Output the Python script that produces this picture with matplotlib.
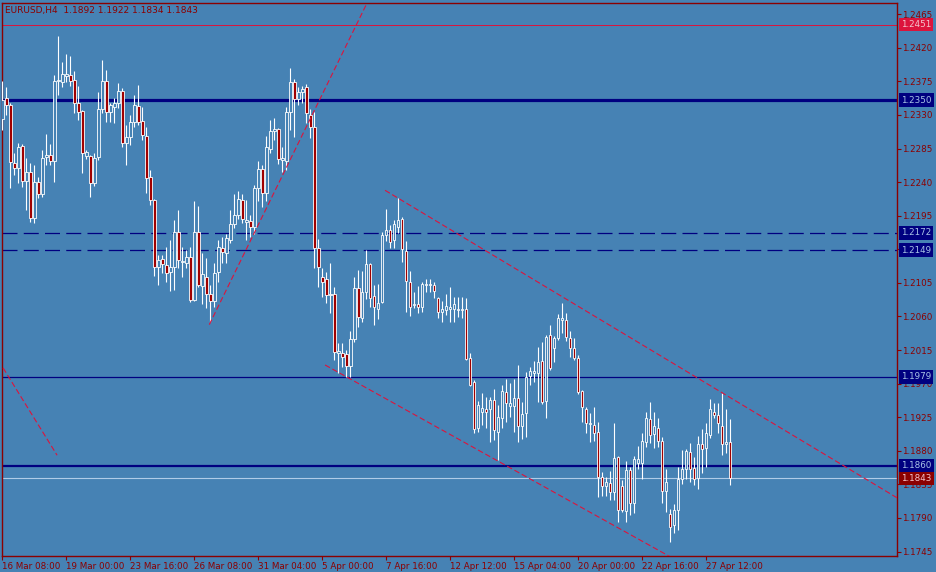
import matplotlib
matplotlib.use("Agg")
import matplotlib.pyplot as plt
import numpy as np

# EURUSD H4 bars (open, high, low, close)
opens = [1.2325, 1.2353, 1.2343, 1.2266, 1.2259, 1.2288, 1.2241, 1.2253, 1.2192, 1.2240,
         1.2224, 1.2274, 1.2276, 1.2268, 1.2375, 1.2374, 1.2382, 1.2384, 1.2377, 1.2346,
         1.2335, 1.2275, 1.2275, 1.2239, 1.2274, 1.2338, 1.2375, 1.2334, 1.2341, 1.2346,
         1.2362, 1.2292, 1.2300, 1.2321, 1.2342, 1.2322, 1.2302, 1.2247, 1.2216, 1.2126,
         1.2137, 1.2129, 1.2120, 1.2126, 1.2173, 1.2133, 1.2132, 1.2140, 1.2082, 1.2173,
         1.2101, 1.2113, 1.2090, 1.2081, 1.2120, 1.2152, 1.2145, 1.2162, 1.2184, 1.2196,
         1.2216, 1.2187, 1.2188, 1.2180, 1.2232, 1.2258, 1.2225, 1.2284, 1.2309, 1.2311,
         1.2270, 1.2268, 1.2334, 1.2374, 1.2351, 1.2361, 1.2367, 1.2330, 1.2314, 1.2152,
         1.2113, 1.2110, 1.2089, 1.2090, 1.2011, 1.2011, 1.2010, 1.1994, 1.2030, 1.2098,
         1.2058, 1.2093, 1.2130, 1.2087, 1.2070, 1.2079, 1.2169, 1.2176, 1.2162, 1.2180,
         1.2191, 1.2148, 1.2106, 1.2075, 1.2077, 1.2073, 1.2102, 1.2102, 1.2102, 1.2085,
         1.2066, 1.2069, 1.2070, 1.2070, 1.2069, 1.2069, 1.2070, 1.2004, 1.1972, 1.1911,
         1.1932, 1.1936, 1.1936, 1.1948, 1.1905, 1.1924, 1.1959, 1.1940, 1.1940, 1.1951,
         1.1913, 1.1931, 1.1980, 1.1984, 1.1984, 1.2000, 1.1947, 1.2035, 1.2018, 1.2031,
         1.2055, 1.2055, 1.2031, 1.2018, 1.2004, 1.1960, 1.1936, 1.1916, 1.1915, 1.1905,
         1.1845, 1.1833, 1.1837, 1.1825, 1.1872, 1.1833, 1.1799, 1.1854, 1.1810, 1.1864,
         1.1864, 1.1892, 1.1923, 1.1902, 1.1911, 1.1893, 1.1826, 1.1795, 1.1781, 1.1801,
         1.1842, 1.1856, 1.1878, 1.1857, 1.1843, 1.1889, 1.1884, 1.1901, 1.1932, 1.1928,
         1.1913, 1.1889, 1.1892]
highs = [1.2375, 1.2367, 1.2346, 1.2279, 1.2292, 1.2291, 1.2272, 1.2266, 1.2263, 1.2247,
         1.2283, 1.2304, 1.2291, 1.2384, 1.2436, 1.2401, 1.2412, 1.2409, 1.2389, 1.2369,
         1.2336, 1.2283, 1.2276, 1.2279, 1.2361, 1.2404, 1.2390, 1.2346, 1.2353, 1.2373,
         1.2366, 1.2317, 1.2330, 1.2357, 1.2370, 1.2341, 1.2314, 1.2256, 1.2217, 1.2142,
         1.2142, 1.2153, 1.2162, 1.2189, 1.2203, 1.2153, 1.2149, 1.2153, 1.2215, 1.2208,
         1.2145, 1.2138, 1.2102, 1.2132, 1.2162, 1.2166, 1.2170, 1.2203, 1.2224, 1.2228,
         1.2224, 1.2216, 1.2196, 1.2236, 1.2268, 1.2263, 1.2302, 1.2323, 1.2326, 1.2312,
         1.2287, 1.2341, 1.2393, 1.2378, 1.2367, 1.2369, 1.2371, 1.2338, 1.2334, 1.2164,
         1.2125, 1.2120, 1.2132, 1.2099, 1.2024, 1.2024, 1.2015, 1.2041, 1.2113, 1.2122,
         1.2121, 1.2149, 1.2132, 1.2102, 1.2103, 1.2173, 1.2204, 1.2183, 1.2189, 1.2219,
         1.2193, 1.2161, 1.2121, 1.2093, 1.2101, 1.2106, 1.2110, 1.2110, 1.2106, 1.2086,
         1.2081, 1.2090, 1.2099, 1.2086, 1.2086, 1.2086, 1.2085, 1.2011, 1.1975, 1.1947,
         1.1957, 1.1952, 1.1952, 1.1963, 1.1941, 1.1968, 1.1976, 1.1971, 1.1976, 1.1995,
         1.1945, 1.1986, 1.1992, 1.2000, 1.2019, 1.2026, 1.2035, 1.2049, 1.2034, 1.2063,
         1.2078, 1.2065, 1.2040, 1.2031, 1.2008, 1.1961, 1.1939, 1.1931, 1.1939, 1.1919,
         1.1852, 1.1845, 1.1853, 1.1917, 1.1873, 1.1841, 1.1866, 1.1858, 1.1873, 1.1886,
         1.1904, 1.1932, 1.1945, 1.1932, 1.1924, 1.1898, 1.1856, 1.1802, 1.1809, 1.1858,
         1.1881, 1.1882, 1.1890, 1.1872, 1.1900, 1.1909, 1.1917, 1.1949, 1.1944, 1.1944,
         1.1957, 1.1936, 1.1922]
lows = [1.2310, 1.2330, 1.2232, 1.2250, 1.2239, 1.2233, 1.2203, 1.2187, 1.2185, 1.2219,
        1.2220, 1.2263, 1.2263, 1.2240, 1.2357, 1.2367, 1.2374, 1.2369, 1.2333, 1.2323,
        1.2252, 1.2271, 1.2220, 1.2235, 1.2270, 1.2333, 1.2321, 1.2321, 1.2319, 1.2339,
        1.2287, 1.2263, 1.2290, 1.2314, 1.2317, 1.2296, 1.2225, 1.2209, 1.2114, 1.2102,
        1.2118, 1.2106, 1.2094, 1.2095, 1.2125, 1.2113, 1.2125, 1.2079, 1.2081, 1.2099,
        1.2077, 1.2071, 1.2053, 1.2073, 1.2106, 1.2132, 1.2132, 1.2158, 1.2179, 1.2191,
        1.2185, 1.2162, 1.2166, 1.2170, 1.2215, 1.2207, 1.2215, 1.2279, 1.2296, 1.2264,
        1.2253, 1.2256, 1.2310, 1.2300, 1.2343, 1.2346, 1.2319, 1.2299, 1.2125, 1.2099,
        1.2086, 1.2078, 1.2065, 1.2002, 1.1984, 1.1992, 1.1979, 1.1979, 1.2026, 1.2046,
        1.2053, 1.2083, 1.2073, 1.2049, 1.2057, 1.2078, 1.2161, 1.2152, 1.2152, 1.2172,
        1.2133, 1.2066, 1.2061, 1.2071, 1.2065, 1.2066, 1.2093, 1.2093, 1.2085, 1.2058,
        1.2053, 1.2062, 1.2053, 1.2053, 1.2059, 1.2058, 1.2002, 1.1967, 1.1904, 1.1905,
        1.1915, 1.1911, 1.1892, 1.1894, 1.1868, 1.1911, 1.1919, 1.1925, 1.1905, 1.1892,
        1.1896, 1.1898, 1.1968, 1.1972, 1.1945, 1.1943, 1.1924, 1.1988, 1.1999, 1.2028,
        1.2038, 1.2027, 1.2006, 1.2002, 1.1956, 1.1919, 1.1904, 1.1892, 1.1893, 1.1818,
        1.1819, 1.1819, 1.1814, 1.1814, 1.1785, 1.1798, 1.1785, 1.1794, 1.1797, 1.1856,
        1.1842, 1.1885, 1.1890, 1.1884, 1.1885, 1.1810, 1.1798, 1.1758, 1.1770, 1.1774,
        1.1835, 1.1842, 1.1838, 1.1834, 1.1829, 1.1850, 1.1858, 1.1897, 1.1924, 1.1904,
        1.1874, 1.1877, 1.1834]
closes = [1.2350, 1.2343, 1.2267, 1.2259, 1.2287, 1.2241, 1.2253, 1.2192, 1.2240, 1.2224,
          1.2272, 1.2276, 1.2268, 1.2375, 1.2377, 1.2385, 1.2385, 1.2375, 1.2346, 1.2334,
          1.2279, 1.2280, 1.2239, 1.2272, 1.2338, 1.2375, 1.2334, 1.2343, 1.2346, 1.2362,
          1.2292, 1.2300, 1.2321, 1.2343, 1.2321, 1.2303, 1.2246, 1.2216, 1.2126, 1.2136,
          1.2130, 1.2118, 1.2126, 1.2173, 1.2136, 1.2134, 1.2140, 1.2082, 1.2173, 1.2102,
          1.2117, 1.2090, 1.2081, 1.2118, 1.2153, 1.2146, 1.2165, 1.2184, 1.2196, 1.2217,
          1.2191, 1.2189, 1.2180, 1.2232, 1.2258, 1.2225, 1.2287, 1.2309, 1.2311, 1.2271,
          1.2272, 1.2334, 1.2374, 1.2351, 1.2361, 1.2365, 1.2333, 1.2314, 1.2152, 1.2126,
          1.2106, 1.2089, 1.2090, 1.2012, 1.2014, 1.2006, 1.1994, 1.2030, 1.2098, 1.2059,
          1.2093, 1.2130, 1.2085, 1.2073, 1.2078, 1.2169, 1.2176, 1.2160, 1.2184, 1.2189,
          1.2150, 1.2107, 1.2073, 1.2077, 1.2073, 1.2103, 1.2103, 1.2103, 1.2094, 1.2066,
          1.2070, 1.2074, 1.2073, 1.2077, 1.2070, 1.2070, 1.2003, 1.1968, 1.1909, 1.1941,
          1.1937, 1.1932, 1.1948, 1.1908, 1.1925, 1.1960, 1.1944, 1.1944, 1.1951, 1.1913,
          1.1929, 1.1979, 1.1987, 1.1987, 1.1999, 1.1945, 1.2032, 1.1991, 1.2031, 1.2058,
          1.2058, 1.2032, 1.2018, 1.2004, 1.1959, 1.1939, 1.1917, 1.1917, 1.1904, 1.1845,
          1.1833, 1.1838, 1.1825, 1.1870, 1.1801, 1.1801, 1.1854, 1.1810, 1.1869, 1.1869,
          1.1893, 1.1924, 1.1901, 1.1913, 1.1893, 1.1826, 1.1838, 1.1778, 1.1801, 1.1842,
          1.1856, 1.1880, 1.1856, 1.1842, 1.1889, 1.1882, 1.1904, 1.1936, 1.1928, 1.1917,
          1.1889, 1.1892, 1.1843]

date_labels = ["16 Mar 08:00", "19 Mar 00:00", "23 Mar 16:00", "26 Mar 08:00",
               "31 Mar 04:00", "5 Apr 00:00", "7 Apr 16:00", "12 Apr 12:00",
               "15 Apr 04:00", "20 Apr 00:00", "22 Apr 16:00", "27 Apr 12:00"]
label_every = 16

price_ticks = [1.2465, 1.2420, 1.2375, 1.2330, 1.2285, 1.2240, 1.2195, 1.2150,
               1.2105, 1.2060, 1.2015, 1.1970, 1.1925, 1.1880, 1.1835, 1.1790, 1.1745]

# horizontal levels
level_solid_thick = [1.2350, 1.1860]
level_dashed = [1.2172, 1.2149]
level_thin = [1.1979]
high_line = 1.2451
bid_line = 1.1843

# trend lines as (bar, price) pairs
trend_up = [(51.75, 1.2049), (91.2, 1.2480)]
chan_upper = [(95.7, 1.2229), (223.7, 1.1817)]
chan_lower = [(80.7, 1.1995), (170.0, 1.1729)]
trend_left = [(0.2, 1.1991), (13.7, 1.1874)]

bg = "#4682b4"
axcol = "#8b0000"
navy = "#000080"
crimson = "#dc143c"

fig = plt.figure(figsize=(9.36, 5.72), dpi=100, facecolor=bg)
ax = fig.add_axes([2 / 936, 16 / 572, 895 / 936, 553 / 572], facecolor=bg)

o = np.array(opens)
h = np.array(highs)
l = np.array(lows)
c = np.array(closes)
x = np.arange(len(o))

ax.vlines(x, l, h, color="white", lw=0.8, zorder=3)
up = c >= o
body_lo = np.minimum(o, c)
body_h = np.abs(c - o)
ax.bar(x[up], body_h[up], bottom=body_lo[up], width=0.62, facecolor=bg,
       edgecolor="white", linewidth=0.6, zorder=4)
ax.bar(x[~up], body_h[~up], bottom=body_lo[~up], width=0.62, facecolor="#a00000",
       edgecolor="white", linewidth=0.6, zorder=4)

# levels
ax.axhline(level_solid_thick[0], color=navy, lw=2.3, zorder=2)
ax.axhline(level_solid_thick[1], color=navy, lw=1.6, zorder=2)
for p in level_dashed:
    ax.axhline(p, color=navy, lw=0.9, dashes=(12, 5), zorder=2)
for p in level_thin:
    ax.axhline(p, color=navy, lw=0.9, zorder=2)
ax.axhline(high_line, color=crimson, lw=0.7, zorder=2)
ax.axhline(bid_line, color="#b0cce8", lw=0.8, zorder=2)

for ln in [trend_up, chan_upper, chan_lower, trend_left]:
    xs = [pt[0] for pt in ln]
    ys = [pt[1] for pt in ln]
    ax.plot(xs, ys, color=crimson, lw=0.8, dashes=(5, 2.5), zorder=5)

ax.set_xlim(-0.075, 223.7)
ax.set_ylim(1.1739, 1.2480)

for s in ax.spines.values():
    s.set_color(axcol)
    s.set_linewidth(1)

ax.yaxis.tick_right()
ax.set_yticks(price_ticks)
ax.set_yticklabels(["%.4f" % p for p in price_ticks])
ax.set_xticks(np.arange(len(date_labels)) * label_every)
ax.set_xticklabels(date_labels, ha="left")
ax.tick_params(axis="both", colors=axcol, labelsize=6.3, length=3, width=0.8, direction="out")
ax.tick_params(axis="y", pad=0.5)
ax.tick_params(axis="x", pad=1.5)

# price labels on the right axis
tr = ax.get_yaxis_transform()
boxes = [(high_line, crimson, "#f4c4cc")]
boxes += [(p, navy, "#a9c4e6") for p in level_solid_thick + level_dashed + level_thin]
boxes += [(bid_line, "#8b0000", "#f4c4cc")]
for p, fc, tc in boxes:
    ax.text(1.0045, p, "%.4f" % p, transform=tr, ha="left", va="center", fontsize=6.3,
            color=tc, zorder=10, clip_on=False,
            bbox=dict(boxstyle="square,pad=0.25", fc=fc, ec="none"))

fig.text(5 / 936, 1 - 10 / 572, "EURUSD,H4  1.1892 1.1922 1.1834 1.1843", color=axcol,
         fontsize=6.5, ha="left", va="center")

fig.savefig("out.png", dpi=100, facecolor=bg)
